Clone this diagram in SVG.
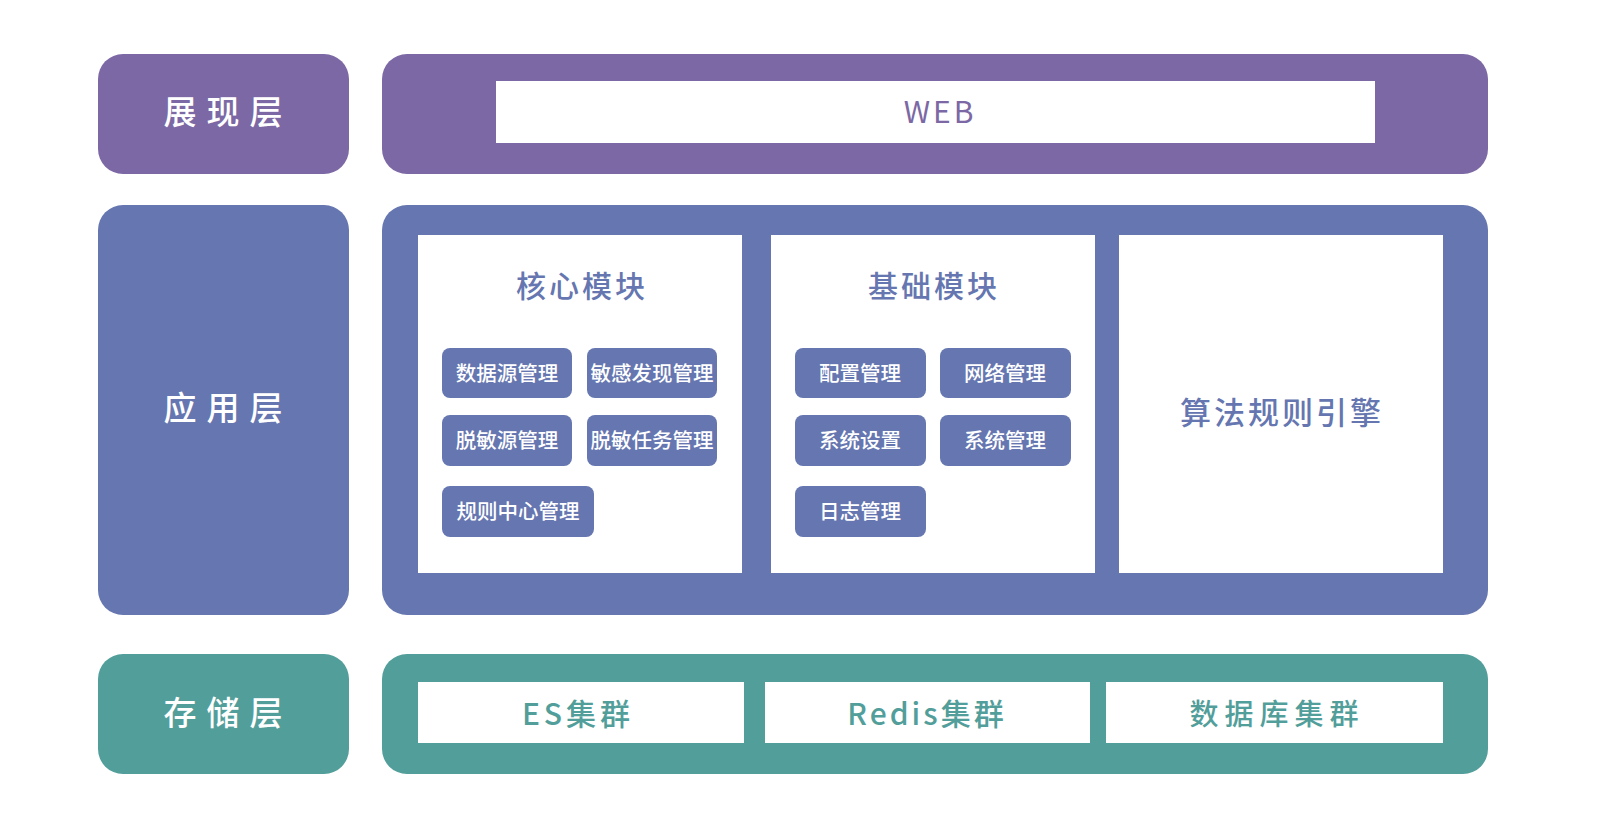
<svg xmlns="http://www.w3.org/2000/svg" width="1601" height="834" viewBox="0 0 1601 834">
<style>
text{font-family:"Noto Sans CJK SC","Noto Sans",sans-serif;text-anchor:middle;dominant-baseline:central}
.p{fill:#7C68A4}.b{fill:#6576B0}.t{fill:#529E9A}.w{fill:#ffffff}
.lbl{fill:#ffffff;font-size:33px;font-weight:500;letter-spacing:10px}
.ttl{fill:#6576B0;font-size:30px;font-weight:500;letter-spacing:3px}
.btn{fill:#ffffff;font-size:20.5px;font-weight:500}
.st{fill:#529E9A;font-size:29px;font-weight:500}
</style>
<g id="presentation-layer">
<rect class="p" x="98" y="54" width="251" height="120" rx="25"/>
<text class="lbl" x="228" y="110">展现层</text>
<rect class="p" x="382" y="54" width="1106" height="120" rx="25"/>
<rect class="w" x="496" y="81" width="879" height="62"/>
<text x="940" y="110" style="fill:#7C68A4;font-size:30px;letter-spacing:3px">WEB</text>
</g>
<g id="application-layer">
<rect class="b" x="98" y="205" width="251" height="410" rx="25"/>
<text class="lbl" x="228" y="406">应用层</text>
<rect class="b" x="382" y="205" width="1106" height="410" rx="25"/>
<rect class="w" x="418" y="235" width="324" height="338"/>
<rect class="w" x="771" y="235" width="324" height="338"/>
<rect class="w" x="1119" y="235" width="324" height="338"/>
</g>
<g id="core-module">
<text class="ttl" x="582" y="284">核心模块</text>
<rect class="b" x="442" y="348" width="130" height="50" rx="8"/>
<text class="btn" x="507" y="372">数据源管理</text>
<rect class="b" x="587" y="348" width="130" height="50" rx="8"/>
<text class="btn" x="652" y="372">敏感发现管理</text>
<rect class="b" x="442" y="415" width="130" height="51" rx="8"/>
<text class="btn" x="507" y="439">脱敏源管理</text>
<rect class="b" x="587" y="415" width="130" height="51" rx="8"/>
<text class="btn" x="652" y="439">脱敏任务管理</text>
<rect class="b" x="442" y="486" width="152" height="51" rx="8"/>
<text class="btn" x="518" y="510">规则中心管理</text>
</g>
<g id="base-module">
<text class="ttl" x="934" y="284">基础模块</text>
<rect class="b" x="795" y="348" width="131" height="50" rx="8"/>
<text class="btn" x="860" y="372">配置管理</text>
<rect class="b" x="940" y="348" width="131" height="50" rx="8"/>
<text class="btn" x="1005" y="372">网络管理</text>
<rect class="b" x="795" y="415" width="131" height="51" rx="8"/>
<text class="btn" x="860" y="439">系统设置</text>
<rect class="b" x="940" y="415" width="131" height="51" rx="8"/>
<text class="btn" x="1005" y="439">系统管理</text>
<rect class="b" x="795" y="486" width="131" height="51" rx="8"/>
<text class="btn" x="860" y="510">日志管理</text>
</g>
<g id="rule-engine">
<text class="ttl" x="1282" y="410" style="font-size:31px">算法规则引擎</text>
</g>
<g id="storage-layer">
<rect class="t" x="98" y="654" width="251" height="120" rx="25"/>
<text class="lbl" x="228" y="711">存储层</text>
<rect class="t" x="382" y="654" width="1106" height="120" rx="25"/>
<rect class="w" x="418" y="682" width="326" height="61"/>
<text class="st" x="578" y="712" style="font-size:30px;letter-spacing:4px">ES集群</text>
<rect class="w" x="765" y="682" width="325" height="61"/>
<text class="st" x="927" y="712" style="font-size:30px;letter-spacing:3px">Redis集群</text>
<rect class="w" x="1106" y="682" width="337" height="61"/>
<text class="st" x="1277" y="712" style="letter-spacing:6px">数据库集群</text>
</g>
<g id="connectors"/>
</svg>
